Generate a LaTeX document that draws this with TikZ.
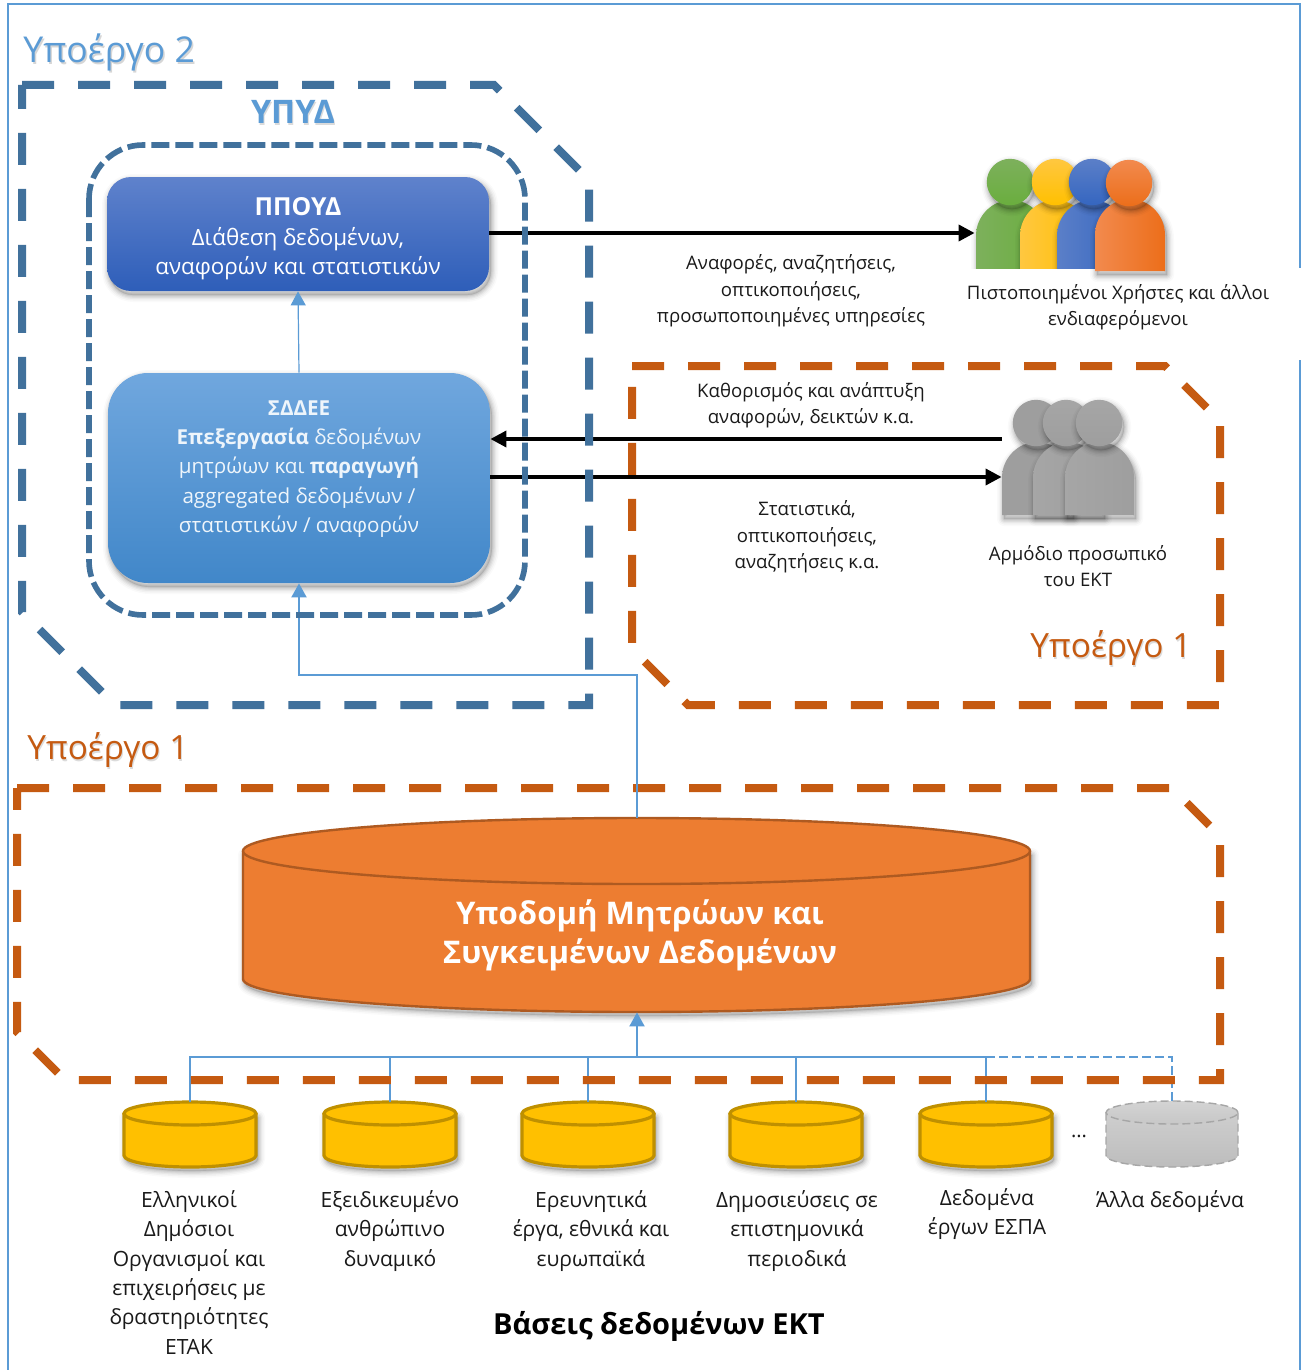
\documentclass[tikz,border=0pt]{standalone}
\usepackage{fontspec}
\setmainfont{Open Sans}
\usetikzlibrary{arrows.meta,calc,shapes.geometric}
\definecolor{frameblue}{HTML}{5B9BD5}
\definecolor{steelb}{HTML}{41719C}
\definecolor{rust}{HTML}{C55A11}
\definecolor{txt}{HTML}{1A1A1A}
\definecolor{boxAtop}{HTML}{5F82CC}
\definecolor{boxAbot}{HTML}{2E5EB9}
\definecolor{boxBtop}{HTML}{70A7DE}
\definecolor{boxBbot}{HTML}{4187C9}
\definecolor{cylO}{HTML}{ED7D31}
\definecolor{cylOb}{HTML}{AE5A21}
\definecolor{cylY}{HTML}{FFC000}
\definecolor{cylYb}{HTML}{BF9000}
\definecolor{persGa}{HTML}{7DB05C}
\definecolor{persGb}{HTML}{6AAE3E}
\definecolor{persYa}{HTML}{FFC740}
\definecolor{persBa}{HTML}{5B7FC8}
\definecolor{persBb}{HTML}{3566C0}
\definecolor{persOa}{HTML}{F28A4E}
\definecolor{persOb}{HTML}{EC6E1A}
\tikzset{
 softsh/.style={
  preaction={draw=black,draw opacity=.02,line width=7pt,line join=round,transform canvas={xshift=1pt,yshift=-2pt}},
  preaction={draw=black,draw opacity=.03,line width=5.5pt,line join=round,transform canvas={xshift=1pt,yshift=-2pt}},
  preaction={draw=black,draw opacity=.04,line width=4pt,line join=round,transform canvas={xshift=1pt,yshift=-2pt}},
  preaction={draw=black,draw opacity=.05,line width=2.8pt,line join=round,transform canvas={xshift=1pt,yshift=-2pt}},
  preaction={draw=black,draw opacity=.06,line width=1.6pt,line join=round,transform canvas={xshift=1pt,yshift=-2pt}},
  preaction={draw=black,draw opacity=.06,line width=.6pt,line join=round,fill=black,fill opacity=.1,transform canvas={xshift=1pt,yshift=-2pt}}},
 bigdash/.style={draw=steelb,line width=4pt,dash pattern=on 16pt off 12pt},
 innerdash/.style={draw=steelb,line width=2.8pt,dash pattern=on 9pt off 3pt},
 rustdash/.style={draw=rust,line width=4pt,dash pattern=on 16pt off 12pt},
 blackarrow/.style={draw=black,line width=1.8pt,-{Triangle[length=8pt,width=8pt]}},
 bluearrow/.style={draw=frameblue,line width=1pt,-{Triangle[length=7pt,width=7.5pt]}},
 bus/.style={draw=frameblue,line width=.8pt},
 busdash/.style={draw=frameblue,line width=.8pt,dash pattern=on 4.5pt off 2pt},
 lbl/.style={align=center,text=txt,font=\fontsize{9.3}{13.2}\selectfont,inner sep=0pt},
 dblbl/.style={align=center,text=txt,font=\fontsize{10.5}{14.7}\selectfont,inner sep=0pt},
 title/.style={inner sep=0pt,anchor=west,font=\fontsize{17.8}{20}\selectfont},
 titlesm/.style={inner sep=0pt,anchor=west,font=\fontsize{16.7}{20}\selectfont},
 cylbig/.style={draw=cylOb,line width=1.2pt},
 cylsmall/.style={draw=cylYb,line width=1.6pt},
 cylgray/.style={draw=black!35,line width=.7pt,dash pattern=on 4pt off 2pt},
}
% #1 name, #2 cx, #3 half width, #4 top, #5 bottom, #6 ry, #7 outline style, #8 top fill, #9 body fill options
\newcommand{\dbcyl}[9]{%
 \pgfmathsetmacro{\cyh}{(#5-#4)*.5}%
 \pgfmathsetmacro{\cym}{(#4+#5)/2}%
 \path[#9] (#2-#3,#4+#6) -- (#2+#3,#4+#6)
   -- (#2+#3,#5-#6) arc[start angle=360,end angle=180,x radius=#3*.5pt,y radius=#6*.5pt] -- cycle;
 \path[#7,#8] (#2,#4+#6) ellipse[x radius=#3*.5pt,y radius=#6*.5pt];
 \draw[#7] (#2-#3,#4+#6) -- (#2-#3,#5-#6) arc[start angle=180,end angle=360,x radius=#3*.5pt,y radius=#6*.5pt] -- (#2+#3,#4+#6);
 \node[inner sep=0pt,minimum width=#3pt,minimum height=\cyh pt] (#1) at (#2,\cym) {};
}
% #1 x0, #2 x1, #3 top, #4 bottom, #5 head x, #6 head y, #7 left colour, #8 right colour
\newcommand{\person}[8]{%
 \pgfmathsetmacro{\pxc}{(#1+#2)/2}%
 \path[softsh,left color=#7,right color=#8] (#1,#4) -- (#1,#3+36) .. controls (#1,#3+16) and (\pxc-19,#3) .. (\pxc,#3)
   .. controls (\pxc+19,#3) and (#2,#3+16) .. (#2,#3+36) -- (#2,#4) -- cycle;
 \path[softsh,top color=#7,bottom color=#8] (#5,#6) circle[radius=11.6pt];
}
\begin{document}
\begin{tikzpicture}[x=.5pt,y=-.5pt]
\useasboundingbox (0,0) rectangle (1301,1370);
\fill[white] (0,0) rectangle (1301,1370);
% outer frame
\draw[frameblue,line width=1pt] (8,1370) -- (8,4) -- (1300,4) -- (1300,268);
\draw[frameblue,line width=1pt] (1300,360) -- (1300,1370);
% titles
\node[title,text=black!40,opacity=.4] at (24.5,54.5) {Υποέργο 2};
\node[title,text=frameblue] (t2) at (23,52) {Υποέργο 2};
\node[inner sep=0pt,text=black!40,opacity=.35,font=\fontsize{16.2}{18}\selectfont\bfseries] at (294,114) {ΥΠΥΔ};
\node[inner sep=0pt,text=frameblue,font=\fontsize{16.2}{18}\selectfont\bfseries] (ypyd) at (293,112) {ΥΠΥΔ};
\node[titlesm,text=black!40,opacity=.35] at (1031,650) {Υποέργο 1};
\node[titlesm,text=rust] (t1a) at (1030,648) {Υποέργο 1};
\node[titlesm,text=black!40,opacity=.35] at (28,752.5) {Υποέργο 1};
\node[titlesm,text=rust] (t1b) at (27,750.5) {Υποέργο 1};
% upper right group
\draw[rustdash] (632,366) -- (1165,366) -- (1220,421) -- (1220,705) -- (688,705) -- (632,649) -- cycle;
% boxes
\node[softsh,rounded corners=12pt,minimum width=191pt,minimum height=57pt,inner sep=0pt,top color=boxAtop,bottom color=boxAbot] (ppoyd) at (298,234) {};
\node[softsh,rounded corners=20pt,minimum width=191pt,minimum height=105pt,inner sep=0pt,top color=boxBtop,bottom color=boxBbot] (sddee) at (299,478) {};
\node[inner sep=0pt,align=center,text=white,font=\fontsize{11.2}{14.7}\selectfont] (ppoydt) at (298,239) {{\fontsize{12.4}{14.7}\selectfont\bfseries ΠΠΟΥΔ}\\Διάθεση δεδομένων,\\αναφορών και στατιστικών};
\node[inner sep=0pt,align=center,text=white!88!boxBtop,font=\fontsize{10.3}{14.7}\selectfont] (sddeet) at (299,469) {{\bfseries ΣΔΔΕΕ}\\{\bfseries Επεξεργασία} δεδομένων\\μητρώων και {\bfseries παραγωγή}\\aggregated δεδομένων /\\στατιστικών / αναφορών};
% big cylinder
\dbcyl{infra}{636.5}{393.5}{818}{1012}{33}{cylbig}{fill=cylO}{softsh,fill=cylO}
\node[inner sep=0pt,align=center,text=white,font=\fontsize{15.6}{19.4}\selectfont\bfseries] (infrat) at (640,935) {Υποδομή Μητρώων και\\Συγκειμένων Δεδομένων};
% small cylinders
\dbcyl{db1}{190}{66}{1102}{1167}{11.5}{cylsmall}{fill=cylY}{softsh,fill=cylY}
\dbcyl{db2}{390}{66}{1102}{1167}{11.5}{cylsmall}{fill=cylY}{softsh,fill=cylY}
\dbcyl{db3}{588}{66}{1102}{1167}{11.5}{cylsmall}{fill=cylY}{softsh,fill=cylY}
\dbcyl{db4}{796}{66}{1102}{1167}{11.5}{cylsmall}{fill=cylY}{softsh,fill=cylY}
\dbcyl{db5}{986}{66}{1102}{1167}{11.5}{cylsmall}{fill=cylY}{softsh,fill=cylY}
\dbcyl{db6}{1172}{66}{1101}{1167}{11.5}{cylgray}{top color=black!17,bottom color=black!22}{top color=black!19,bottom color=black!26}
% bus
\coordinate (busjoin) at (637,1057);
\draw[bus] (db1.north) |- (busjoin);
\draw[bus] (db2.north) |- (busjoin);
\draw[bus] (db3.north) |- (busjoin);
\draw[bus] (db4.north) |- (busjoin);
\draw[bus] (db5.north) |- (busjoin);
\draw[busdash] (db6.north) |- (db5.north |- busjoin);
\draw[bluearrow] (busjoin) -- (infra.south -| busjoin);
% lower group drawn over the bus
\draw[rustdash] (17,788) -- (1172,788) -- (1220,836) -- (1220,1080) -- (65,1080) -- (17,1032) -- cycle;
% upward connectors
\coordinate (bend) at (637,675);
\draw[bluearrow] (infra.north -| bend) -- (bend) -| (sddee.south);
\draw[bluearrow,line width=.6pt] (sddee.north) -- (ppoyd.south);
% people
\begin{scope}
\clip (950,140) rectangle (1200,268);
\person{976}{1046}{200}{300}{1010}{182}{persGa}{persGb}
\person{1020}{1090}{200}{300}{1055}{182}{persYa}{cylY}
\person{1057}{1127}{200}{300}{1092}{182}{persBa}{persBb}
\end{scope}
\person{1095}{1165}{199}{271}{1129}{183}{persOa}{persOb}
\node[inner sep=0pt,minimum width=95pt,minimum height=56pt] (users) at (1070,215) {};
\person{1002}{1072}{442}{515}{1036}{423}{black!38}{black!38}
\person{1033}{1103}{442}{515}{1066}{423}{black!35}{black!38}
\person{1065}{1134}{442}{515}{1099}{423}{black!35}{black!38}
\node[inner sep=0pt,minimum width=66pt,minimum height=58pt] (staff) at (1068,458) {};
% black arrows
\coordinate (a1) at (ppoyd.east |- 0,233);
\draw[blackarrow] (a1) -- (users.west |- a1);
\coordinate (a2) at (staff.west |- 0,439);
\draw[blackarrow] (a2) -- (sddee.east |- a2);
\coordinate (a3) at (sddee.east |- 0,477);
\draw[blackarrow] (a3) -- (staff.west |- a3);
% blue dashed groups over the arrows
\draw[bigdash] (22,85) -- (494,85) -- (589,180) -- (589,705) -- (115,705) -- (22,612) -- cycle;
\draw[innerdash,rounded corners=27pt] (89,145) rectangle (525,615);
% labels
\node[lbl] at (791,291) {Αναφορές, αναζητήσεις,\\οπτικοποιήσεις,\\προσωποποιημένες υπηρεσίες};
\node[lbl] at (1118,307) {Πιστοποιημένοι Χρήστες και άλλοι\\ενδιαφερόμενοι};
\node[lbl] at (811,405.5) {Καθορισμός και ανάπτυξη\\αναφορών, δεικτών κ.α.};
\node[lbl] at (807,537) {Στατιστικά,\\οπτικοποιήσεις,\\αναζητήσεις κ.α.};
\node[lbl] at (1078,566) {Αρμόδιο προσωπικό\\του ΕΚΤ};
\node[dblbl,anchor=north] at (189,1190) {Ελληνικοί\\Δημόσιοι\\Οργανισμοί και\\επιχειρήσεις με\\δραστηριότητες\\ΕΤΑΚ};
\node[dblbl,anchor=north] at (390,1190) {Εξειδικευμένο\\ανθρώπινο\\δυναμικό};
\node[dblbl,anchor=north] at (591,1190) {Ερευνητικά\\έργα, εθνικά και\\ευρωπαϊκά};
\node[dblbl,anchor=north] at (797,1190) {Δημοσιεύσεις σε\\επιστημονικά\\περιοδικά};
\node[dblbl,anchor=north] at (987,1188) {Δεδομένα\\έργων ΕΣΠΑ};
\node[dblbl,anchor=north] at (1170,1190) {Άλλα δεδομένα};
\node[inner sep=0pt,text=txt,font=\fontsize{10}{12}\selectfont] at (1079,1136) {...};
\node[inner sep=0pt,text=black,font=\fontsize{14.5}{18}\selectfont\bfseries] at (659,1326) {Βάσεις δεδομένων ΕΚΤ};
\end{tikzpicture}
\end{document}
